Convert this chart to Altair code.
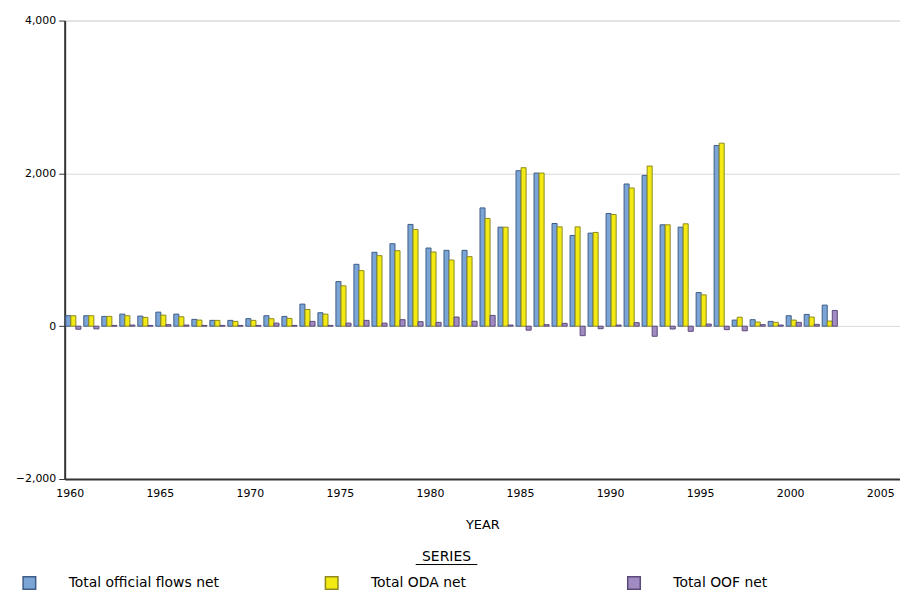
import altair as alt
import pandas as pd

years = [1960, 1961, 1962, 1963, 1964, 1965, 1966, 1967, 1968, 1969,
         1970, 1971, 1972, 1973, 1974, 1975, 1976, 1977, 1978, 1979,
         1980, 1981, 1982, 1983, 1984, 1985, 1986, 1987, 1988, 1989,
         1990, 1991, 1992, 1993, 1994, 1995, 1996, 1997, 1998, 1999,
         2000, 2001, 2002]

total_official = [137, 137, 128, 158, 132, 184, 158, 89, 76, 76,
                  98, 137, 128, 289, 176, 584, 810, 967, 1079, 1332,
                  1023, 993, 993, 1548, 1296, 2035, 2004, 1344, 1188, 1218,
                  1475, 1861, 1974, 1327, 1296, 440, 2365, 80, 85, 63,
                  137, 154, 276]

total_oda = [137, 137, 128, 137, 115, 145, 123, 80, 76, 63,
             76, 98, 102, 219, 158, 528, 727, 923, 988, 1266,
             971, 866, 910, 1410, 1296, 2074, 2004, 1300, 1300, 1227,
             1462, 1809, 2096, 1327, 1340, 410, 2395, 117, 54, 50,
             80, 119, 67]

total_oof = [-40, -35, 10, 15, 10, 20, 15, 10, 10, 10,
             10, 40, 10, 63, 10, 40, 76, 40, 85, 59,
             50, 120, 65, 141, 15, -52, 20, 37, -124, -33,
             15, 46, -132, -37, -67, 28, -45, -60, 20, 15,
             50, 24, 206]

series_names = ["Total official flows net", "Total ODA net", "Total OOF net"]
legend_title = ["SERIES"]
fills = ["#7BA5D6", "#F2EA12", "#A08BC2"]
strokes = ["#3E5C86", "#8E8A1E", "#5A4A7A"]

x_ticks = [1960, 1965, 1970, 1975, 1980, 1985, 1990, 1995, 2000, 2005]
y_ticks = [-2000, 0, 2000, 4000]

rows = []
for k, (name, vals) in enumerate(zip(series_names, [total_official, total_oda, total_oof])):
    for yr, v in zip(years, vals):
        rows.append({"year": yr, "series": name, "value": v, "k": k})
df = pd.DataFrame(rows)

FONT = "DejaVu Sans"

bars = alt.Chart(df).transform_calculate(
    x0="datum.year - 0.22 + datum.k * 0.28",
    x1="datum.year + 0.06 + datum.k * 0.28",
    zero="0",
).mark_rect(strokeWidth=1).encode(
    x=alt.X("x0:Q",
            scale=alt.Scale(domain=[1959.72, 2006.1], nice=False, zero=False),
            axis=alt.Axis(values=x_ticks, format="d", title="YEAR", grid=False,
                          ticks=False, domainColor="#333333", domainWidth=2,
                          labelPadding=9, titlePadding=20, labelFontSize=11,
                          labelColor="#000000", titleFontSize=13,
                          titleFontWeight="normal", titleColor="#000000",
                          labelFont=FONT, titleFont=FONT)),
    x2="x1:Q",
    y=alt.Y("value:Q",
            scale=alt.Scale(domain=[-2000, 4000], nice=False),
            axis=alt.Axis(values=y_ticks, format=",d", title=None, grid=True,
                          gridColor="#D8D8D8", domainColor="#333333", domainWidth=2,
                          tickColor="#333333", tickSize=6, labelPadding=3,
                          labelFontSize=11, labelColor="#000000", labelFont=FONT)),
    y2="zero:Q",
    color=alt.Color("series:N", sort=series_names,
                    scale=alt.Scale(domain=series_names, range=fills),
                    legend=alt.Legend(
                        title=None, orient="none", legendX=-43, legendY=558,
                        direction="horizontal", columns=3, gridAlign="all",
                        columnPadding=103, symbolType="square", symbolSize=160,
                        symbolStrokeColor="#333333", symbolStrokeWidth=1.5,
                        labelOffset=32, labelFontSize=14, labelFont=FONT,
                        labelColor="#000000", labelLimit=400)),
    stroke=alt.Stroke("series:N", sort=series_names,
                      scale=alt.Scale(domain=series_names, range=strokes),
                      legend=None),
)

title_df = pd.DataFrame({"t": legend_title})
series_title = alt.Chart(title_df).mark_text(
    font=FONT, fontSize=14, color="#000000", align="center", baseline="middle"
).encode(text="t:N", x=alt.value(384), y=alt.value(539))

underline = alt.Chart(title_df).mark_rule(color="#000000", strokeWidth=1).encode(
    x=alt.value(353), x2=alt.value(415), y=alt.value(547))

chart = alt.layer(bars, series_title, underline).properties(
    width=840, height=461,
    autosize=alt.AutoSizeParams(type="none"),
    padding={"left": 57, "top": 11, "right": 0, "bottom": 113},
).configure_view(stroke=None).configure(background="#FFFFFF")

chart.save("out.html", embed_options={"renderer": "svg", "actions": False})
